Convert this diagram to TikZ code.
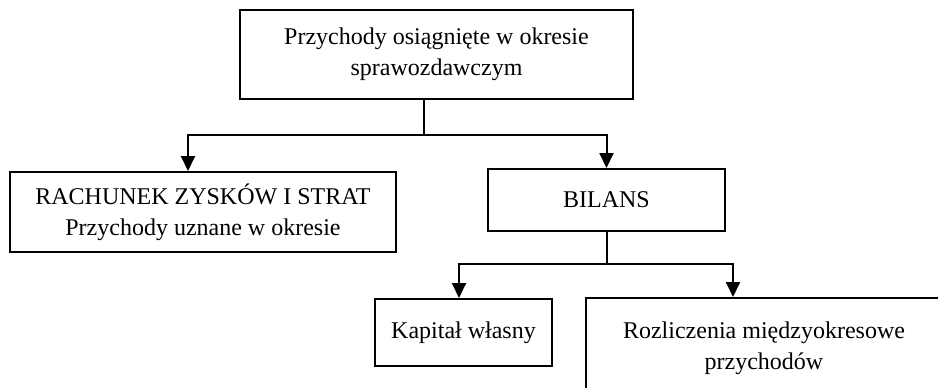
\documentclass[tikz,border=0pt]{standalone}
\usepackage{fontspec}
\setmainfont{Liberation Serif}
\usepackage{tikz}
\usetikzlibrary{arrows.meta,positioning,calc}

\begin{document}
\begin{tikzpicture}[x=0.5pt,y=-0.5pt,every node/.style={font=\fontsize{12}{15.5}\selectfont,align=center},box/.style={draw,line width=1pt,inner sep=0pt,minimum width=#1},arr/.style={-{Triangle[length=7.5pt,width=7pt]},line width=1pt}]
\useasboundingbox (0,0) rectangle (938,387);
\node[box=196.5pt,minimum height=44.5pt] (top) at (436.5,54.5) {Przychody osiągnięte w okresie\\sprawozdawczym};
\node[box=193pt,minimum height=40pt] (rzis) at (203,212) {RACHUNEK ZYSKÓW I STRAT\\Przychody uznane w okresie};
\node[box=118.5pt,minimum height=31pt] (bilans) at (606.5,200) {BILANS};
\node[box=88.5pt,minimum height=33.5pt] (kapital) at (463.5,332.5) {Kapitał własny};
\node[box=178pt,minimum height=50pt] (rozl) at (764,348) {Rozliczenia międzyokresowe\\przychodów};
\coordinate (split1) at (424,135);
\coordinate (split2) at (606.5,264);
\draw[line width=1pt] (top.south -| split1)--(split1);
\draw[arr] (split1)-|([xshift=-7.5pt]rzis.north);
\draw[arr] (split1)-|(bilans.north);
\draw[line width=1pt] (bilans.south)--(split2);
\draw[arr] (split2)-|([xshift=-2.25pt]kapital.north);
\draw[arr] (split2)-|([xshift=-15.5pt]rozl.north);
\end{tikzpicture}
\end{document}
